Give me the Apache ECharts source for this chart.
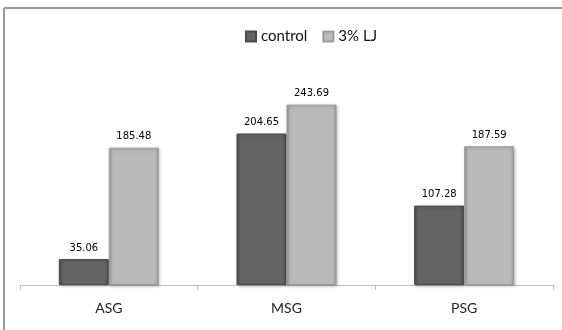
<!DOCTYPE html>
<html><head><meta charset="utf-8">
<script src="https://cdn.jsdelivr.net/npm/echarts@6/dist/echarts.min.js"></script>
<style>html,body{margin:0;padding:0;background:#fff}#c{width:562px;height:330px}</style>
</head><body><div id="c"></div>
<script>
const categories = ['ASG', 'MSG', 'PSG'];
const controlValues = [35.06, 204.65, 107.28];
const ljValues = [185.48, 243.69, 187.59];
const seriesNames = ['control', '3% LJ'];

function grad(edge, mid) {
  return new echarts.graphic.LinearGradient(0, 0, 1, 0, [
    {offset: 0, color: edge}, {offset: 0.08, color: mid},
    {offset: 0.92, color: mid}, {offset: 1, color: edge}
  ]);
}
const chart = echarts.init(document.getElementById('c'), null, {renderer: 'canvas'});
const labelCfg = {show: true, position: 'top', distance: 6, fontFamily: 'DejaVu Sans', fontSize: 10, color: '#000',
  formatter: p => p.value.toFixed(2)};
chart.setOption({
  animation: false,
  backgroundColor: '#fff',
  graphic: [
    {type: 'line', shape: {x1: 4, y1: 8, x2: 562, y2: 8}, style: {stroke: '#9a9a9a', lineWidth: 2}},
    {type: 'line', shape: {x1: 4, y1: 8, x2: 4, y2: 330}, style: {stroke: '#9a9a9a', lineWidth: 2}}
  ],
  legend: {
    top: 24, left: 240, itemWidth: 10, itemHeight: 10, itemGap: 15, icon: 'rect',
    textStyle: {fontFamily: 'Lato', fontSize: 15, color: '#111', padding: [0, 0, 0, 0]},
    data: seriesNames
  },
  grid: {left: 20, right: 9, top: 63, bottom: 45},
  xAxis: {
    type: 'category', data: categories,
    axisLine: {lineStyle: {color: '#bdbdbd', width: 1}},
    axisTick: {show: true, alignWithLabel: false, length: 5, lineStyle: {color: '#bdbdbd'}},
    axisLabel: {fontFamily: 'Lato', fontSize: 14, color: '#222', margin: 16}
  },
  yAxis: {type: 'value', min: 0, max: 300, show: false, splitLine: {show: false}},
  series: [
    {name: seriesNames[0], type: 'bar', data: controlValues, barWidth: 50, barGap: '0%', barCategoryGap: '43%',
     itemStyle: {color: grad('#4a4a4a', '#646464'), borderColor: '#4a4a4a', borderWidth: 1,
       shadowColor: 'rgba(0,0,0,0.25)', shadowBlur: 3, shadowOffsetX: 1, shadowOffsetY: 1},
     label: labelCfg},
    {name: seriesNames[1], type: 'bar', data: ljValues, barWidth: 50, barGap: '0%',
     itemStyle: {color: grad('#9c9c9c', '#bababa'), borderColor: '#9c9c9c', borderWidth: 1,
       shadowColor: 'rgba(0,0,0,0.25)', shadowBlur: 3, shadowOffsetX: 1, shadowOffsetY: 1},
     label: labelCfg}
  ]
});
</script></body></html>
